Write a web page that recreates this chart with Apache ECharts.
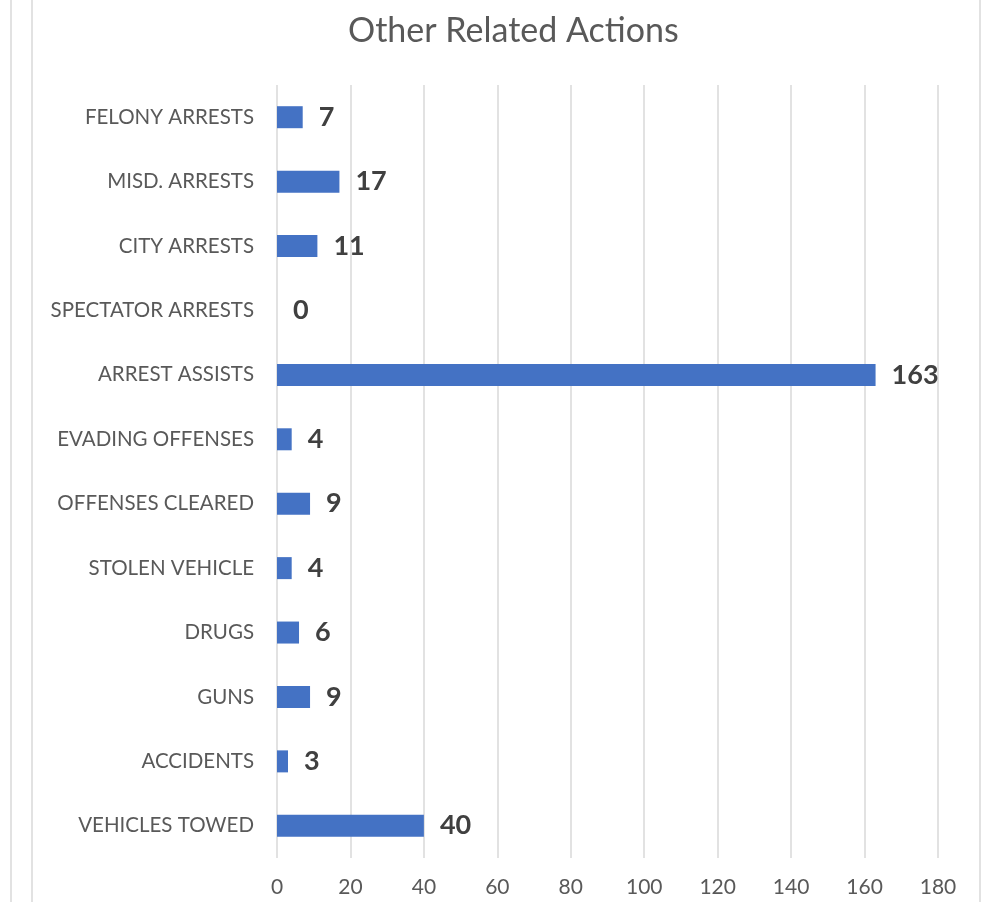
<!DOCTYPE html>
<html><head><meta charset="utf-8">
<script src="https://cdn.jsdelivr.net/npm/echarts@6/dist/echarts.min.js"></script>
<style>html,body{margin:0;padding:0;background:#fff}#c{width:997px;height:902px}</style>
</head><body><div id="c"></div>
<script>
const categories = ["FELONY ARRESTS","MISD. ARRESTS","CITY ARRESTS","SPECTATOR ARRESTS","ARREST ASSISTS","EVADING OFFENSES","OFFENSES CLEARED","STOLEN VEHICLE","DRUGS","GUNS","ACCIDENTS","VEHICLES TOWED"];
const values = [7,17,11,0,163,4,9,4,6,9,3,40];
const titleText = "Other Related Actions";
const font = "Lato, 'Open Sans', sans-serif";
const chart = echarts.init(document.getElementById('c'));
chart.setOption({
  animation:false,
  backgroundColor:'#fff',
  title:{text:titleText,left:343,top:9,textStyle:{fontFamily:font,fontSize:34,fontWeight:'normal',color:'#595959'}},
  graphic:[
    {type:'line',shape:{x1:11,y1:0,x2:11,y2:902},style:{stroke:'#d9d9d9',lineWidth:1.5}},
    {type:'line',shape:{x1:32,y1:0,x2:32,y2:902},style:{stroke:'#d9d9d9',lineWidth:1.5}},
    {type:'line',shape:{x1:980,y1:0,x2:980,y2:902},style:{stroke:'#d9d9d9',lineWidth:1.5}}
  ],
  grid:{left:277,right:59,top:85,bottom:44,containLabel:false},
  xAxis:{type:'value',min:0,max:180,interval:20,
    axisLine:{show:false},axisTick:{show:false},
    splitLine:{lineStyle:{color:'#d9d9d9',width:1.5}},
    axisLabel:{fontFamily:font,fontSize:21,color:'#595959',margin:19}},
  yAxis:{type:'category',data:categories,inverse:true,
    axisLine:{show:false},axisTick:{show:false},
    axisLabel:{fontFamily:font,fontSize:20.5,color:'#595959',margin:23}},
  series:[{type:'bar',data:values,barWidth:22,
    itemStyle:{color:'#4472C4'},
    label:{show:true,position:'right',distance:16,fontFamily:font,fontSize:27,fontWeight:'bold',color:'#404040'}}]
});
</script></body></html>
